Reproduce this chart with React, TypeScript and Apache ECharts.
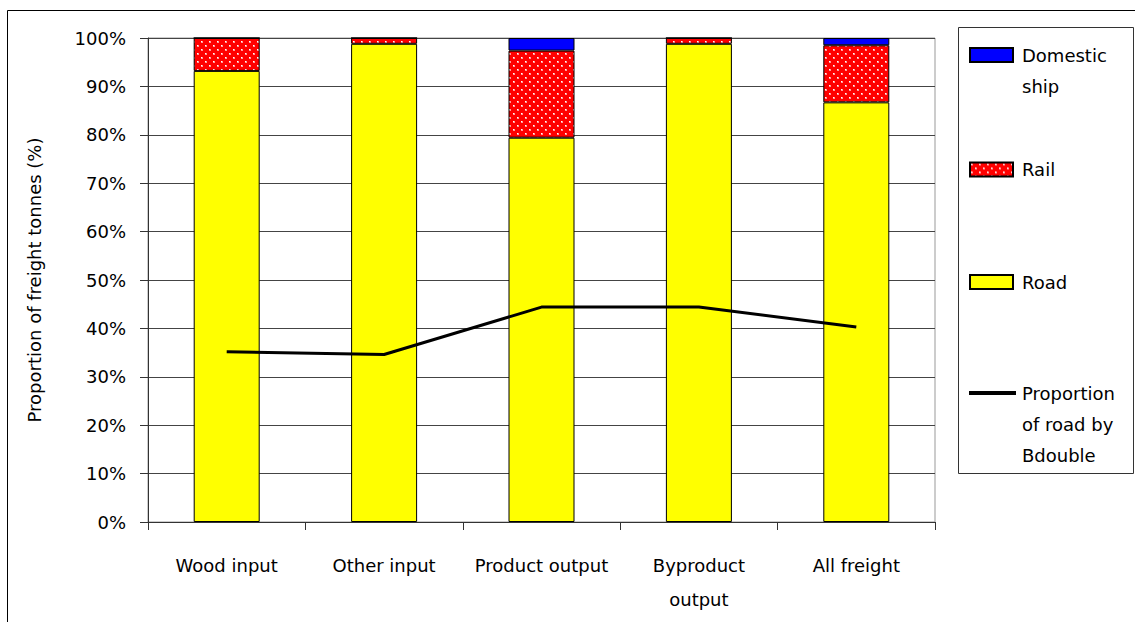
import React, { useEffect, useRef } from "react";
import * as echarts from "echarts";

const categories = ["Wood input", "Other input", "Product output", "Byproduct\noutput", "All freight"];
const roadValues = [93.2, 98.8, 79.4, 98.8, 86.7];
const railValues = [6.8, 1.2, 18.0, 1.2, 11.8];
const shipValues = [0, 0, 2.6, 0, 1.5];
const bdoubleValues = [35.2, 34.6, 44.4, 44.4, 40.3];
const yTicks = [0, 10, 20, 30, 40, 50, 60, 70, 80, 90, 100];

const FONT = "DejaVu Sans";

function makeDotPattern(): HTMLCanvasElement {
  const c = document.createElement("canvas");
  c.width = 8;
  c.height = 8;
  const ctx = c.getContext("2d")!;
  ctx.fillStyle = "#ff0000";
  ctx.fillRect(0, 0, 8, 8);
  const dot = (x: number, y: number) => {
    ctx.fillStyle = "#ff9c9c";
    ctx.fillRect(x, y, 2, 2);
    ctx.fillStyle = "#ffffff";
    ctx.fillRect(x, y, 1, 1);
  };
  dot(1, 1);
  dot(5, 5);
  return c;
}

export default function App() {
  const ref = useRef<HTMLDivElement>(null);
  useEffect(() => {
    if (!ref.current) return;
    const chart = echarts.init(ref.current, undefined, { renderer: "svg" });
    const pattern = makeDotPattern();
    const lh = 31;
    const legendText = { fontFamily: FONT, fontSize: 18, color: "#000", lineHeight: lh, padding: [0, 0, 0, 4] };
    const legendBase = {
      left: 969,
      padding: 0,
      itemWidth: 43,
      itemHeight: 14,
      textStyle: legendText,
      selectedMode: false,
    };
    chart.setOption({
      animation: false,
      backgroundColor: "#fff",
      grid: {
        left: 148,
        top: 38,
        right: 200,
        bottom: 100,
        show: true,
        borderColor: "#999",
        borderWidth: 1,
        backgroundColor: "transparent",
      },
      xAxis: {
        type: "category",
        data: categories,
        axisLine: { lineStyle: { color: "#333", width: 1 } },
        axisTick: { show: true, length: 8, lineStyle: { color: "#333" } },
        axisLabel: {
          fontFamily: FONT,
          fontSize: 18,
          color: "#000",
          margin: 26,
          lineHeight: 34,
          interval: 0,
        },
      },
      yAxis: {
        type: "value",
        min: 0,
        max: 100,
        interval: 10,
        name: "Proportion of freight tonnes (%)",
        nameLocation: "middle",
        nameGap: 105,
        nameRotate: 90,
        nameTextStyle: { fontFamily: FONT, fontSize: 18, color: "#000" },
        axisLine: { show: true, lineStyle: { color: "#333", width: 1 } },
        axisTick: { show: true, length: 8, lineStyle: { color: "#333" } },
        splitLine: { show: true, lineStyle: { color: "#444", width: 1 } },
        axisLabel: {
          fontFamily: FONT,
          fontSize: 18,
          color: "#000",
          margin: 22,
          formatter: (v: number) => (yTicks.includes(v) ? v + "%" : ""),
        },
      },
      legend: [
        {
          ...legendBase,
          data: [{ name: "Domestic ship", icon: "rect" }],
          top: 55 - (3 * lh) / 2,
          formatter: () => "\nDomestic\nship",
        },
        {
          ...legendBase,
          data: [{ name: "Rail", icon: "rect" }],
          top: 169.5 - lh / 2,
        },
        {
          ...legendBase,
          data: [{ name: "Road", icon: "rect" }],
          top: 282 - lh / 2,
        },
        {
          ...legendBase,
          data: [{ name: "Proportion of road by Bdouble", icon: "rect" }],
          itemWidth: 47,
          itemHeight: 4,
          top: 393 - (5 * lh) / 2,
          textStyle: { ...legendText, padding: [0, 0, 0, 1] },
          formatter: () => "\n\nProportion\nof road by\nBdouble",
        },
      ],
      graphic: [
        {
          type: "rect",
          shape: { x: 7.5, y: 10.5, width: 1200, height: 700 },
          style: { fill: "none", stroke: "#000", lineWidth: 1 },
          silent: true,
          z: -1,
        },
        {
          type: "rect",
          shape: { x: 958.5, y: 27.5, width: 175, height: 446 },
          style: { fill: "none", stroke: "#333", lineWidth: 1 },
          silent: true,
        },
      ],
      series: [
        {
          name: "Road",
          type: "bar",
          stack: "mode",
          data: roadValues,
          barWidth: 66,
          itemStyle: { color: "#ffff00", borderColor: "#000", borderWidth: 1 },
        },
        {
          name: "Rail",
          type: "bar",
          stack: "mode",
          data: railValues,
          barWidth: 66,
          itemStyle: {
            color: { image: pattern, repeat: "repeat" },
            borderColor: "#000",
            borderWidth: 1,
          },
        },
        {
          name: "Domestic ship",
          type: "bar",
          stack: "mode",
          data: shipValues,
          barWidth: 66,
          itemStyle: { color: "#0000ff", borderColor: "#000", borderWidth: 1 },
        },
        {
          name: "Proportion of road by Bdouble",
          type: "line",
          data: bdoubleValues,
          showSymbol: false,
          symbol: "none",
          lineStyle: { color: "#000", width: 3 },
          itemStyle: { color: "#000" },
          z: 5,
        },
      ],
    });
    return () => chart.dispose();
  }, []);
  return (
    <div
      ref={ref}
      style={{ position: "absolute", left: 0, top: 0, width: 1135, height: 622 }}
    />
  );
}
